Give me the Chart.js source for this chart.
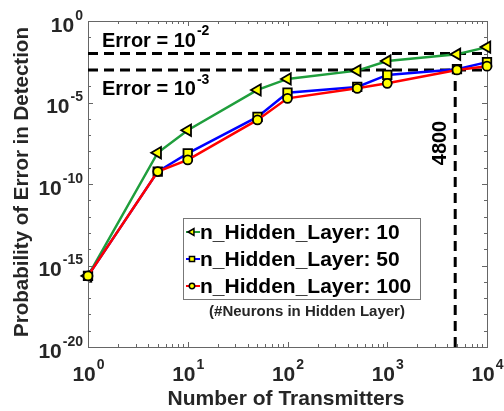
<!DOCTYPE html>
<html>
<head>
<meta charset="utf-8">
<script src="https://cdn.jsdelivr.net/npm/chart.js@4"></script>
<style>
html, body { margin: 0; padding: 0; background: #fff; }
</style>
</head>
<body>
<canvas id="myChart" width="504" height="411"></canvas>
<script>
// values
var transmitters = [1, 5, 10, 50, 100, 500, 1000, 5000, 10000];
var errHidden10  = [2.3e-16, 8.3e-9, 2.0e-7, 5.9e-5, 2.8e-4, 9.0e-4, 3.5e-3, 9.1e-3, 2.5e-2];
var errHidden50  = [2.3e-16, 5.8e-10, 7.6e-9, 1.3e-6, 4.0e-5, 9.0e-5, 4.9e-4, 1.1e-3, 3.0e-3];
var errHidden100 = [2.3e-16, 5.8e-10, 3.0e-9, 8.5e-7, 1.8e-5, 7.4e-5, 1.5e-4, 1.0e-3, 1.7e-3];
var seriesLabels = ['n_Hidden_Layer: 10', 'n_Hidden_Layer: 50', 'n_Hidden_Layer: 100'];
var xTicks = [1, 10, 100, 1000, 10000];
var yTicks = [1, 1e-5, 1e-10, 1e-15, 1e-20];
var errorLevels = [1e-2, 1e-3];
var cutoff = 4800;

var FONT = "'Liberation Sans', Arial, sans-serif";
var TXT = '#262626';

function pts(ys) {
    return transmitters.map(function(t, i) { return { x: t, y: ys[i] }; });
}

function series(label, data, color, style, radius, rot, order) {
    return {
        label: label, data: pts(data),
        borderColor: color, borderWidth: 2.5,
        pointStyle: style, pointRadius: radius, pointRotation: rot,
        pointBackgroundColor: '#ffff00', pointBorderColor: '#000', pointBorderWidth: 1.8,
        fill: false, tension: 0, clip: false, order: order
    };
}

function dashed(data) {
    return {
        data: data, borderColor: '#000', borderWidth: 3, borderDash: [10, 6],
        pointRadius: 0, fill: false, clip: false, order: 10
    };
}

// 10 with a raised exponent
function pow10(ctx, e, x, y, align, big, small) {
    ctx.font = 'bold ' + big + 'px ' + FONT;
    var wb = ctx.measureText('10').width;
    ctx.font = 'bold ' + small + 'px ' + FONT;
    var we = ctx.measureText(String(e)).width;
    var x0 = align == 'right' ? x - wb - we : (align == 'left' ? x : x - (wb + we) / 2);
    ctx.textAlign = 'left';
    ctx.textBaseline = 'middle';
    ctx.font = 'bold ' + big + 'px ' + FONT;
    ctx.fillText('10', x0, y + 4);
    ctx.font = 'bold ' + small + 'px ' + FONT;
    ctx.fillText(String(e), x0 + wb + 1, y - 6);
}

var decor = {
    id: 'decor',
    beforeDatasetsDraw: function(chart) {
        var ctx = chart.ctx, a = chart.chartArea, xs = chart.scales.x, ys = chart.scales.y;
        ctx.save();
        ctx.strokeStyle = '#666';
        ctx.lineWidth = 1;
        ctx.strokeRect(a.left + 0.5, a.top + 0.5, a.right - a.left, a.bottom - a.top);
        ctx.beginPath();
        for (var d = 1; d < 10000; d *= 10) {
            for (var m = 2; m < 10; m++) {
                var px = Math.round(xs.getPixelForValue(d * m)) + 0.5;
                ctx.moveTo(px, a.bottom); ctx.lineTo(px, a.bottom - 3);
                ctx.moveTo(px, a.top); ctx.lineTo(px, a.top + 3);
            }
        }
        xTicks.forEach(function(v) {
            var px = Math.round(xs.getPixelForValue(v)) + 0.5;
            ctx.moveTo(px, a.bottom); ctx.lineTo(px, a.bottom - 5);
            ctx.moveTo(px, a.top); ctx.lineTo(px, a.top + 5);
        });
        for (var e = 0; e >= -20; e--) {
            var py = Math.round(ys.getPixelForValue(Math.pow(10, e))) + 0.5;
            var len = e % 5 == 0 ? 5 : 3;
            ctx.moveTo(a.left, py); ctx.lineTo(a.left + len, py);
            ctx.moveTo(a.right, py); ctx.lineTo(a.right - len, py);
        }
        ctx.stroke();
        ctx.restore();
    },
    afterDraw: function(chart) {
        var ctx = chart.ctx, a = chart.chartArea, xs = chart.scales.x, ys = chart.scales.y;
        ctx.save();
        ctx.fillStyle = TXT;

        // tick labels
        xTicks.forEach(function(v) {
            pow10(ctx, Math.round(Math.log10(v)), xs.getPixelForValue(v), a.bottom + 24, 'center', 21, 14);
        });
        yTicks.forEach(function(v) {
            pow10(ctx, Math.round(Math.log10(v)), a.left - 6, ys.getPixelForValue(v) + 1, 'right', 21, 14);
        });

        // axis titles
        ctx.font = 'bold 21px ' + FONT;
        ctx.textAlign = 'center';
        ctx.textBaseline = 'middle';
        ctx.fillText('Number of Transmitters', 286, 399);
        ctx.save();
        ctx.translate(22, 182);
        ctx.rotate(-Math.PI / 2);
        ctx.font = 'bold 20.5px ' + FONT;
        ctx.fillText('Probability of Error in Detection', 0, 0);
        ctx.restore();

        // annotations
        ctx.fillStyle = '#000';
        ctx.font = 'bold 20px ' + FONT;
        ctx.textAlign = 'left';
        var wErr = ctx.measureText('Error = ').width;
        var lv = [errorLevels[0], errorLevels[1]];
        var yA = [ys.getPixelForValue(lv[0]) - 16, ys.getPixelForValue(lv[1]) + 16];
        lv.forEach(function(v, i) {
            ctx.font = 'bold 20px ' + FONT;
            ctx.textAlign = 'left';
            ctx.textBaseline = 'middle';
            ctx.fillText('Error = ', 102, yA[i] + 4);
            pow10(ctx, Math.round(Math.log10(v)), 102 + wErr, yA[i], 'left', 20, 14);
        });
        ctx.save();
        ctx.font = 'bold 20px ' + FONT;
        ctx.translate(xs.getPixelForValue(cutoff) - 15, 143);
        ctx.rotate(-Math.PI / 2);
        ctx.textAlign = 'center';
        ctx.textBaseline = 'middle';
        ctx.fillText(String(cutoff), 0, 0);
        ctx.restore();

        // legend
        var lx = 183, ly = 218, lw = 237, lh = 81;
        ctx.fillStyle = '#fff';
        ctx.fillRect(lx, ly, lw, lh);
        ctx.strokeStyle = '#777';
        ctx.lineWidth = 1;
        ctx.strokeRect(lx + 0.5, ly + 0.5, lw, lh);
        var rows = [232, 259, 286];
        for (var i = 0; i < 3; i++) {
            var ds = chart.data.datasets[i];
            ctx.strokeStyle = ds.borderColor;
            ctx.lineWidth = 2;
            ctx.beginPath();
            ctx.moveTo(186, rows[i]); ctx.lineTo(200, rows[i]);
            ctx.stroke();
            ctx.fillStyle = '#ffff00';
            ctx.strokeStyle = '#000';
            ctx.lineWidth = 1.5;
            Chart.helpers.drawPoint(ctx, {
                pointStyle: ds.pointStyle, rotation: ds.pointRotation,
                radius: ds.pointRadius * 0.6, borderWidth: 1.5
            }, 192, rows[i]);
            ctx.fillStyle = '#000';
            ctx.font = 'bold 21px ' + FONT;
            ctx.textAlign = 'left';
            ctx.textBaseline = 'middle';
            ctx.fillText(seriesLabels[i], 200, rows[i] + 1);
        }
        ctx.font = 'bold 15px ' + FONT;
        ctx.textAlign = 'center';
        ctx.fillStyle = TXT;
        ctx.fillText('(#Neurons in Hidden Layer)', 307, 312);
        ctx.restore();
    }
};

var ctx = document.getElementById('myChart').getContext('2d');
var chart = new Chart(ctx, {
    type: 'line',
    data: {
        datasets: [
            series(seriesLabels[0], errHidden10, '#1f9e3c', 'triangle', 6.5, -90, 3),
            series(seriesLabels[1], errHidden50, '#0000ff', 'rect', 6, 0, 2),
            series(seriesLabels[2], errHidden100, '#ff0000', 'circle', 4.5, 0, 1),
            dashed([{ x: 1, y: errorLevels[0] }, { x: 10000, y: errorLevels[0] }]),
            dashed([{ x: 1, y: errorLevels[1] }, { x: 10000, y: errorLevels[1] }]),
            dashed([{ x: cutoff, y: 1e-20 }, { x: cutoff, y: errorLevels[1] }])
        ]
    },
    options: {
        responsive: false,
        animation: false,
        layout: { padding: { left: 88, right: 17, top: 21, bottom: 64 } },
        scales: {
            x: { type: 'logarithmic', min: 1, max: 10000, display: false },
            y: { type: 'logarithmic', min: 1e-20, max: 1, display: false }
        },
        plugins: { legend: { display: false }, tooltip: { enabled: false } }
    },
    plugins: [decor]
});
</script>
</body>
</html>
